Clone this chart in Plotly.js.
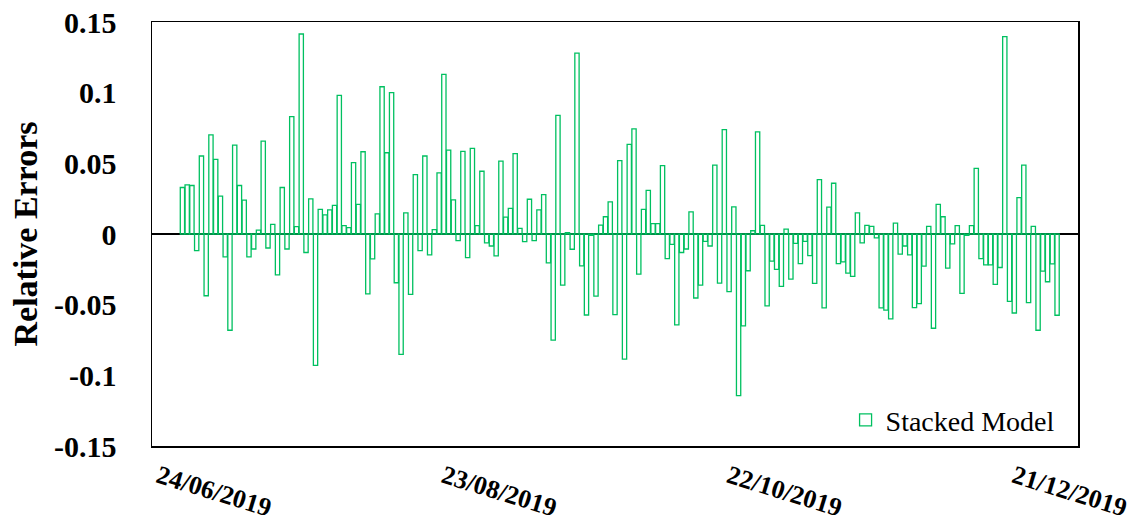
<!DOCTYPE html>
<html>
<head>
<meta charset="utf-8">
<script src="https://cdn.plot.ly/plotly-3.0.1.min.js"></script>
<style>
  html, body { margin: 0; padding: 0; background: #fff; }
  #chart { width: 1142px; height: 524px; }
</style>
</head>
<body>
<div id="chart"></div>
<script>
// ---- data ----
const seriesName = "Stacked Model";
const firstDate = "2019-06-29";
const relativeErrors = [
  0.0329, 0.0347, 0.0343, -0.0117, 0.0552, -0.0437, 0.0702, 0.0528, 0.0268, -0.0162,
  -0.0681, 0.0629, 0.0343, 0.0239, -0.0162, -0.0106, 0.0028, 0.0657, -0.0099, 0.0068,
  -0.0289, 0.0329, -0.0106, 0.0831, 0.0052, 0.1415, -0.0131, 0.0249, -0.0930, 0.0174,
  0.0136, 0.0171, 0.0202, 0.0981, 0.0059, 0.0045, 0.0505, 0.0209, 0.0582, -0.0423,
  -0.0176, 0.0143, 0.1042, 0.0575, 0.1000, -0.0345, -0.0852, 0.0150, -0.0427, 0.0420,
  -0.0117, 0.0552, -0.0148, 0.0031, 0.0432, 0.1129, 0.0594, 0.0242, -0.0047, 0.0585,
  -0.0167, 0.0606, 0.0059, 0.0444, -0.0063, -0.0085, -0.0155, 0.0516, 0.0120, 0.0181,
  0.0568, 0.0040, -0.0054, 0.0246, -0.0047, 0.0171, 0.0279, -0.0204, -0.0751, 0.0840,
  -0.0362, 0.0010, -0.0108, 0.1280, -0.0225, -0.0573, -0.0010, -0.0439, 0.0063, 0.0122,
  0.0228, -0.0570, 0.0519, -0.0885, 0.0634, 0.0744, -0.0284, 0.0174, 0.0308, 0.0073,
  0.0073, 0.0484, -0.0174, -0.0073, -0.0643, -0.0131, -0.0106, 0.0157, -0.0453, -0.0362,
  -0.0052, -0.0085, 0.0488, -0.0347, 0.0739, -0.0408, 0.0192, -0.1143, -0.0650, -0.0260,
  0.0023, 0.0723, 0.0061, -0.0509, -0.0192, -0.0251, -0.0371, 0.0035, -0.0319, -0.0066,
  -0.0209, -0.0052, -0.0153, -0.0350, 0.0385, -0.0523, 0.0190, 0.0359, -0.0209, -0.0197,
  -0.0277, -0.0300, 0.0150, -0.0063, 0.0061, 0.0054, -0.0028, -0.0523, -0.0538, -0.0601,
  0.0077, -0.0143, -0.0085, -0.0148, -0.0521, -0.0493, -0.0228, 0.0054, -0.0667, 0.0209,
  0.0122, -0.0242, -0.0070, 0.0059, -0.0420, -0.0010, 0.0059, 0.0465, -0.0174, -0.0218,
  -0.0218, -0.0357, -0.0237, 0.1397, -0.0477, -0.0559, 0.0258, 0.0488, -0.0486, 0.0054,
  -0.0681, -0.0263, -0.0338, -0.0211, -0.0575
];
const xTickDates = ["2019-06-24", "2019-08-23", "2019-10-22", "2019-12-21"];
const xTickLabels = ["24/06/2019", "23/08/2019", "22/10/2019", "21/12/2019"];
const yTickValues = [-0.15, -0.1, -0.05, 0, 0.05, 0.1, 0.15];
const yTickLabels = ["-0.15", "-0.1", "-0.05", "0", "0.05", "0.1", "0.15"];

// daily dates for each bar
const DAY = 86400000;
const t0 = Date.parse(firstDate + "T00:00:00Z");
const dates = relativeErrors.map((_, i) => new Date(t0 + i * DAY).toISOString().slice(0, 10));

const serif = "'Liberation Serif', 'Times New Roman', serif";
const green = "#00C060";

const trace = {
  type: "bar",
  x: dates,
  y: relativeErrors,
  name: seriesName,
  marker: { color: "rgba(255,255,255,0)", line: { color: green, width: 1.3 } },
  showlegend: true
};

const xStart = new Date(t0 - 6.4 * DAY).toISOString();
const xEnd = new Date(t0 + 188.4 * DAY).toISOString();

const layout = {
  width: 1142, height: 524,
  margin: { l: 152, r: 64, t: 22, b: 78 },
  paper_bgcolor: "#fff", plot_bgcolor: "#fff",
  bargap: 0.1,
  showlegend: true,
  legend: {
    x: 0.749, xanchor: "left", y: 0.12, yanchor: "top",
    bgcolor: "rgba(0,0,0,0)", borderwidth: 0,
    font: { family: serif, size: 28, color: "#000" }
  },
  xaxis: {
    type: "date",
    range: [xStart, xEnd],
    tickvals: xTickDates,
    ticktext: xTickLabels,
    tickangle: 17,
    tickfont: { family: serif, size: 26, color: "#000", weight: "bold" },
    ticks: "",
    ticklabelstandoff: 4,
    showgrid: false, zeroline: false,
    showline: true, linecolor: "#000", linewidth: 1.5, mirror: true
  },
  yaxis: {
    range: [-0.15, 0.15],
    tickvals: yTickValues,
    ticktext: yTickLabels,
    tickfont: { family: serif, size: 30, color: "#000", weight: "bold" },
    ticks: "",
    ticklabelstandoff: 28,
    showgrid: false,
    zeroline: true, zerolinecolor: "#000", zerolinewidth: 2,
    showline: true, linecolor: "#000", linewidth: 1.5, mirror: true,
    title: { text: "<b>Relative Errors</b>", font: { family: serif, size: 34, color: "#000" }, standoff: 6 }
  }
};

Plotly.newPlot("chart", [trace], layout, { displayModeBar: false, staticPlot: true });
</script>
</body>
</html>
